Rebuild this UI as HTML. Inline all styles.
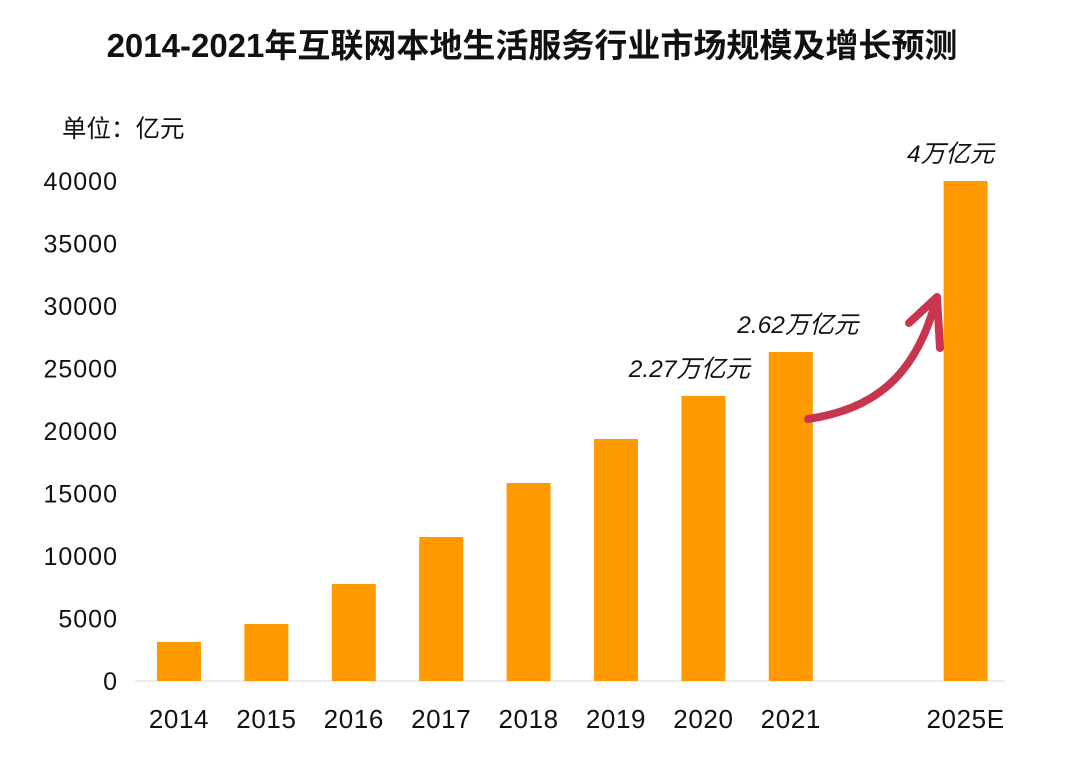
<!DOCTYPE html>
<html><head><meta charset="utf-8">
<style>
body{margin:0;background:#fff;}
svg{display:block;font-family:"Liberation Sans","Noto Sans CJK SC",sans-serif;}
</style></head>
<body>
<svg id="chart" width="1080" height="769">
<text x="532" y="57" text-anchor="middle" font-size="33" font-weight="bold" fill="#111">2014-2021年互联网本地生活服务行业市场规模及增长预测</text>
<text x="62" y="137" font-size="24.5" fill="#111">单位：亿元</text>
<line x1="135" y1="681" x2="1005" y2="681" stroke="#d9d9d9" stroke-width="1"/>
<g id="yaxis"></g>
<g id="bars"></g>
<g id="xaxis"></g>
<g id="anno"></g>
<g fill="none" stroke="#c8354f" stroke-width="8" stroke-linecap="round" stroke-linejoin="round">
<path d="M808,419 C870,410 915,380 936,300"/>
<path d="M909,323 L937,297 L940,348"/>
</g>
</svg>
<script>
const categories=["2014","2015","2016","2017","2018","2019","2020","2021","2025E"];
const slots=[0,1,2,3,4,5,6,7,9];
const values=[3120,4560,7760,11520,15840,19360,22800,26320,40000];
const yTicks=[0,5000,10000,15000,20000,25000,30000,35000,40000];
const annoLabels=["","","","","","","2.27万亿元","2.62万亿元","4万亿元"];
const NS="http://www.w3.org/2000/svg";
const y0=681,yMax=40000,yTop=181;
const y=v=>y0-(v/yMax)*(y0-yTop);
const x=s=>179+s*87.4;
const bw=44;
function mk(tag,attrs,parent,text){const e=document.createElementNS(NS,tag);for(const k in attrs)e.setAttribute(k,attrs[k]);if(text!==undefined)e.textContent=text;document.getElementById(parent).appendChild(e);return e;}
yTicks.forEach(t=>{
  const e=mk("text",{x:118,y:y(t)+9,"text-anchor":"end","font-size":"25","letter-spacing":"1",fill:"#111"},"yaxis",String(t));
  
  
});
const annoShift=[0,0,0,0,0,0,-14,7,-15];
categories.forEach((c,i)=>{
  const cx=x(slots[i]);
  const r=mk("rect",{x:cx-bw/2,y:y(values[i]),width:bw,height:y0-y(values[i]),fill:"#ff9900"},"bars");
  
  
  const t=mk("text",{x:cx,y:728,"text-anchor":"middle","font-size":"26","letter-spacing":"0.6",fill:"#111"},"xaxis",c);
  
  
  if(annoLabels[i]){
    const a=mk("text",{x:cx+annoShift[i],y:y(values[i])-19,"text-anchor":"middle","font-size":"24.5","font-style":"italic",fill:"#111"},"anno",annoLabels[i]);
    
    
  }
});
</script>
</body></html>
